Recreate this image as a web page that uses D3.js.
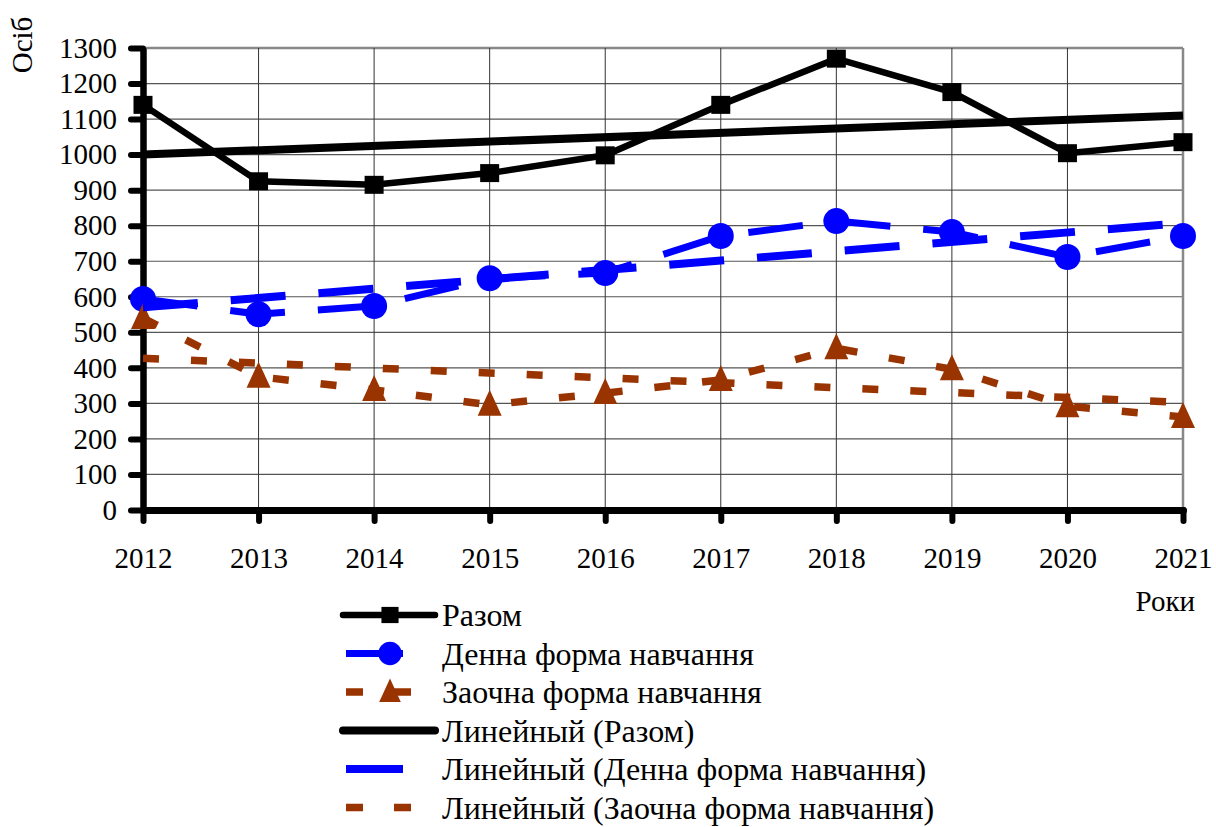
<!DOCTYPE html>
<html>
<head>
<meta charset="utf-8">
<script src="https://cdn.jsdelivr.net/npm/d3@7"></script>
<style>
  body { margin: 0; background: #fff; }
  svg text { font-family: "Times New Roman", "Liberation Serif", "DejaVu Serif", serif; fill: #000; }
</style>
</head>
<body>
<svg id="chart"></svg>
<script>
const years = [2012, 2013, 2014, 2015, 2016, 2017, 2018, 2019, 2020, 2021];
const razom = [1140, 925, 915, 948, 998, 1140, 1270, 1176, 1004, 1035];
const denna = [594, 551, 574, 652, 667, 771, 813, 782, 712, 771];
const zaochna = [540, 375, 338, 296, 329, 366, 455, 396, 292, 262];
const yTicks = d3.range(0, 1301, 100);
const legendLabels = [
  "Разом",
  "Денна форма навчання",
  "Заочна форма навчання",
  "Линейный (Разом)",
  "Линейный (Денна форма навчання)",
  "Линейный (Заочна форма навчання)"
];

const width = 1216, height = 827;
const svg = d3.select("#chart").attr("width", width).attr("height", height);

const x = d3.scalePoint().domain(years).range([143, 1183]);
const y = d3.scaleLinear().domain([0, 1300]).range([510, 48]);

// linear trend (least squares), like Excel's "Линейный"
const trend = (vals) => {
  const n = vals.length;
  const mx = (n - 1) / 2, my = d3.mean(vals);
  let sxy = 0, sxx = 0;
  vals.forEach((v, i) => { sxy += (i - mx) * (v - my); sxx += (i - mx) ** 2; });
  const b = sxy / sxx, a = my - b * mx;
  return [{ year: years[0], v: a }, { year: years[n - 1], v: a + b * (n - 1) }];
};

// grid
svg.append("g").selectAll("line").data(yTicks.filter(d => d > 0)).join("line")
  .attr("x1", 143).attr("x2", 1183)
  .attr("y1", d => y(d)).attr("y2", d => y(d))
  .attr("stroke", d => d === 1300 ? "#888" : "#555")
  .attr("stroke-width", d => d === 1300 ? 2.5 : 1.2);
svg.append("g").selectAll("line").data(years.slice(1)).join("line")
  .attr("x1", d => x(d)).attr("x2", d => x(d))
  .attr("y1", 48).attr("y2", 510)
  .attr("stroke", d => d === 2021 ? "#888" : "#333")
  .attr("stroke-width", d => d === 2021 ? 2.5 : 1);

// axes
const yAxis = svg.append("g")
  .attr("transform", "translate(143,0)")
  .call(d3.axisLeft(y).tickValues(yTicks).tickFormat(d3.format("d"))
    .tickSize(12).tickPadding(14).tickSizeOuter(0));
yAxis.select(".domain").attr("stroke", "#000").attr("stroke-width", 6.5);
yAxis.selectAll(".tick line").attr("stroke", "#000").attr("stroke-width", 6).attr("stroke-linecap", "round");
yAxis.selectAll(".tick text").style("font-size", "29px");

const xAxis = svg.append("g")
  .attr("transform", "translate(0,510)")
  .call(d3.axisBottom(x).tickSize(11).tickSizeOuter(0));
xAxis.select(".domain").attr("stroke", "#000").attr("stroke-width", 7).attr("stroke-linecap", "round");
xAxis.selectAll(".tick line").attr("stroke", "#000").attr("stroke-width", 6).attr("stroke-linecap", "round");
xAxis.selectAll(".tick text").style("font-size", "29px").attr("y", 58).attr("dy", 0);

// axis titles
svg.append("text").attr("transform", "translate(32,45) rotate(-90)")
  .attr("text-anchor", "middle").style("font-size", "29px").text("Осіб");
svg.append("text").attr("x", 1195).attr("y", 611)
  .attr("text-anchor", "end").style("font-size", "29px").text("Роки");

const line = d3.line().x(d => x(d.year)).y(d => y(d.v));
const toPts = vals => vals.map((v, i) => ({ year: years[i], v }));

const series = [
  { vals: razom, color: "#000", width: 6.5, dash: null, marker: "square" },
  { vals: denna, color: "#0000ff", width: 7, dash: "55,33", marker: "circle" },
  { vals: zaochna, color: "#993300", width: 7.5, dash: "16,32", marker: "triangle" }
];
const trendStyles = [
  { color: "#000", width: 8, dash: null },
  { color: "#0000ff", width: 8, dash: "55,33" },
  { color: "#993300", width: 7.5, dash: "16,32" }
];

const drawMarker = (g, type, color, k = 1) => {
  if (type === "square") {
    g.append("rect").attr("x", -9.5 * k).attr("y", -9 * k).attr("width", 19 * k).attr("height", 18 * k).attr("fill", color);
  } else if (type === "circle") {
    g.append("circle").attr("r", 13 * k).attr("fill", color);
  } else {
    g.append("path").attr("d", `M0,${-15 * k}L${12 * k},${11 * k}L${-12 * k},${11 * k}Z`).attr("fill", color);
  }
};

series.forEach(s => {
  const pts = toPts(s.vals);
  svg.append("path").datum(pts).attr("d", line)
    .attr("fill", "none").attr("stroke", s.color).attr("stroke-width", s.width)
    .attr("stroke-dasharray", s.dash);
  svg.append("g").selectAll("g").data(pts).join("g")
    .attr("transform", d => `translate(${x(d.year)},${y(d.v)})`)
    .each(function () { drawMarker(d3.select(this), s.marker, s.color); });
});

[razom, denna, zaochna].forEach((vals, i) => {
  const t = trendStyles[i];
  svg.append("path").datum(trend(vals)).attr("d", line)
    .attr("fill", "none").attr("stroke", t.color).attr("stroke-width", t.width)
    .attr("stroke-dasharray", t.dash);
});

// legend
const legendStyles = [
  { ...series[0] }, { ...series[1] }, { ...series[2] },
  { ...trendStyles[0], marker: null }, { ...trendStyles[1], marker: null }, { ...trendStyles[2], marker: null }
];
const legend = svg.append("g");
legendLabels.forEach((label, i) => {
  const s = legendStyles[i];
  const ly = 615 + i * 38.5;
  const g = legend.append("g").attr("transform", `translate(0,${ly})`);
  g.append("line")
    .attr("x1", s.dash ? 346 : 343).attr("x2", s.dash ? 437 : 435)
    .attr("y1", 0).attr("y2", 0)
    .attr("stroke", s.color).attr("stroke-width", s.width)
    .attr("stroke-linecap", s.dash ? "butt" : "round")
    .attr("stroke-dasharray", s.dash ? (s.dash === "55,33" ? "57,40" : "17,31") : null);
  if (s.marker) {
    const m = g.append("g").attr("transform", "translate(390,0)");
    drawMarker(m, s.marker, s.color, 0.9);
  }
  g.append("text").attr("x", 442).attr("y", 11).style("font-size", "32px").text(label);
});
</script>
</body>
</html>
